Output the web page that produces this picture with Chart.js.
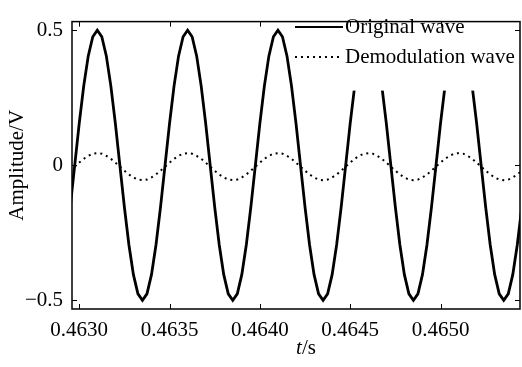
<!DOCTYPE html>
<html>
<head>
<meta charset="utf-8">
<script src="https://cdn.jsdelivr.net/npm/chart.js@4/dist/chart.umd.min.js"></script>
<style>
  body { margin: 0; background: #fff; }
  #grafica { display: block; }
</style>
</head>
<body>
<canvas id="grafica" width="522" height="367"></canvas>
<script>
// tiempos (s)
const tiempos = [
    0.462950,
    0.462975, 0.463000, 0.463025, 0.463050, 0.463075, 0.463100, 0.463125, 0.463150, 0.463175, 0.463200,
    0.463225, 0.463250, 0.463275, 0.463300, 0.463325, 0.463350, 0.463375, 0.463400, 0.463425, 0.463450,
    0.463475, 0.463500, 0.463525, 0.463550, 0.463575, 0.463600, 0.463625, 0.463650, 0.463675, 0.463700,
    0.463725, 0.463750, 0.463775, 0.463800, 0.463825, 0.463850, 0.463875, 0.463900, 0.463925, 0.463950,
    0.463975, 0.464000, 0.464025, 0.464050, 0.464075, 0.464100, 0.464125, 0.464150, 0.464175, 0.464200,
    0.464225, 0.464250, 0.464275, 0.464300, 0.464325, 0.464350, 0.464375, 0.464400, 0.464425, 0.464450,
    0.464475, 0.464500, 0.464525, 0.464550, 0.464575, 0.464600, 0.464625, 0.464650, 0.464675, 0.464700,
    0.464725, 0.464750, 0.464775, 0.464800, 0.464825, 0.464850, 0.464875, 0.464900, 0.464925, 0.464950,
    0.464975, 0.465000, 0.465025, 0.465050, 0.465075, 0.465100, 0.465125, 0.465150, 0.465175, 0.465200,
    0.465225, 0.465250, 0.465275, 0.465300, 0.465325, 0.465350, 0.465375, 0.465400, 0.465425, 0.465450
];

// onda original (V)
const ondaOriginal = [
    -0.155,
    0, 0.155, 0.294, 0.405, 0.476, 0.5, 0.476, 0.405, 0.294, 0.155,
    0, -0.155, -0.294, -0.405, -0.476, -0.5, -0.476, -0.405, -0.294, -0.155,
    0, 0.155, 0.294, 0.405, 0.476, 0.5, 0.476, 0.405, 0.294, 0.155,
    0, -0.155, -0.294, -0.405, -0.476, -0.5, -0.476, -0.405, -0.294, -0.155,
    0, 0.155, 0.294, 0.405, 0.476, 0.5, 0.476, 0.405, 0.294, 0.155,
    0, -0.155, -0.294, -0.405, -0.476, -0.5, -0.476, -0.405, -0.294, -0.155,
    0, 0.155, 0.294, 0.405, 0.476, 0.5, 0.476, 0.405, 0.294, 0.155,
    0, -0.155, -0.294, -0.405, -0.476, -0.5, -0.476, -0.405, -0.294, -0.155,
    0, 0.155, 0.294, 0.405, 0.476, 0.5, 0.476, 0.405, 0.294, 0.155,
    0, -0.155, -0.294, -0.405, -0.476, -0.5, -0.476, -0.405, -0.294, -0.155
];

// onda demodulada (V)
const ondaDemodulada = [
    -0.020,
    -0.005, 0.010, 0.024, 0.035, 0.043, 0.045, 0.043, 0.035, 0.024, 0.010,
    -0.005, -0.020, -0.034, -0.045, -0.053, -0.055, -0.053, -0.045, -0.034, -0.020,
    -0.005, 0.010, 0.024, 0.035, 0.043, 0.045, 0.043, 0.035, 0.024, 0.010,
    -0.005, -0.020, -0.034, -0.045, -0.053, -0.055, -0.053, -0.045, -0.034, -0.020,
    -0.005, 0.010, 0.024, 0.035, 0.043, 0.045, 0.043, 0.035, 0.024, 0.010,
    -0.005, -0.020, -0.034, -0.045, -0.053, -0.055, -0.053, -0.045, -0.034, -0.020,
    -0.005, 0.010, 0.024, 0.035, 0.043, 0.045, 0.043, 0.035, 0.024, 0.010,
    -0.005, -0.020, -0.034, -0.045, -0.053, -0.055, -0.053, -0.045, -0.034, -0.020,
    -0.005, 0.010, 0.024, 0.035, 0.043, 0.045, 0.043, 0.035, 0.024, 0.010,
    -0.005, -0.020, -0.034, -0.045, -0.053, -0.055, -0.053, -0.045, -0.034, -0.020
];

const ticksX = [0.4630, 0.4635, 0.4640, 0.4645, 0.4650];
const ticksY = [-0.5, 0, 0.5];
const nombresSeries = ['Original wave', 'Demodulation wave'];

const FUENTE = "'Liberation Serif', 'Times New Roman', serif";

function puntos(valores) {
    return tiempos.map((t, i) => ({ x: t, y: valores[i] }));
}

// marco con marcas hacia dentro, estilo MATLAB
const marcoPlugin = {
    id: 'marco',
    afterDraw(chart) {
        const { ctx, chartArea: a, scales } = chart;
        const largo = 5;
        ctx.save();
        ctx.strokeStyle = '#000';
        ctx.lineWidth = 1.5;
        ctx.strokeRect(a.left, a.top, a.right - a.left, a.bottom - a.top);
        ctx.lineWidth = 1;
        ctx.beginPath();
        ticksX.forEach(v => {
            const px = Math.round(scales.x.getPixelForValue(v)) + 0.5;
            ctx.moveTo(px, a.bottom); ctx.lineTo(px, a.bottom - largo);
            ctx.moveTo(px, a.top); ctx.lineTo(px, a.top + largo);
        });
        ticksY.forEach(v => {
            const py = Math.round(scales.y.getPixelForValue(v)) + 0.5;
            ctx.moveTo(a.left, py); ctx.lineTo(a.left + largo, py);
            ctx.moveTo(a.right, py); ctx.lineTo(a.right - largo, py);
        });
        ctx.stroke();

        // titulo del eje x: t en cursiva, /s normal
        const cx = 306, cy = 348;
        ctx.fillStyle = '#000';
        ctx.textBaseline = 'middle';
        ctx.font = 'italic 21px ' + FUENTE;
        const wt = ctx.measureText('t').width;
        ctx.font = '21px ' + FUENTE;
        const ws = ctx.measureText('/s').width;
        const x0 = cx - (wt + ws) / 2;
        ctx.font = 'italic 21px ' + FUENTE;
        ctx.fillText('t', x0, cy);
        ctx.font = '21px ' + FUENTE;
        ctx.fillText('/s', x0 + wt, cy);
        ctx.restore();
    }
};

// leyenda dentro del area, con fondo blanco
const leyendaPlugin = {
    id: 'leyenda',
    afterDatasetsDraw(chart) {
        const { ctx, chartArea: a } = chart;
        ctx.save();
        ctx.fillStyle = '#fff';
        ctx.fillRect(294, a.top + 1, a.right - 295, 68);
        ctx.strokeStyle = '#000';
        ctx.lineWidth = 2;
        ctx.beginPath();
        ctx.moveTo(295, 27); ctx.lineTo(343, 27);
        ctx.stroke();
        ctx.setLineDash([2, 4]);
        ctx.beginPath();
        ctx.moveTo(295, 57); ctx.lineTo(343, 57);
        ctx.stroke();
        ctx.setLineDash([]);
        ctx.fillStyle = '#000';
        ctx.font = '21px ' + FUENTE;
        ctx.textBaseline = 'middle';
        ctx.fillText(nombresSeries[0], 345, 27);
        ctx.fillText(nombresSeries[1], 345, 57);
        ctx.restore();
    }
};

new Chart(document.getElementById('grafica').getContext('2d'), {
    type: 'line',
    data: {
        datasets: [
            {
                label: nombresSeries[0],
                data: puntos(ondaOriginal),
                borderColor: '#000',
                borderWidth: 2.8,
                pointRadius: 0,
                tension: 0,
                fill: false
            },
            {
                label: nombresSeries[1],
                data: puntos(ondaDemodulada),
                borderColor: '#000',
                borderWidth: 2,
                borderDash: [2, 4],
                pointRadius: 0,
                tension: 0,
                fill: false
            }
        ]
    },
    options: {
        responsive: false,
        animation: false,
        devicePixelRatio: 1,
        layout: { padding: { top: 8, right: 2, left: 0, bottom: 0 } },
        plugins: {
            legend: { display: false },
            tooltip: { enabled: false }
        },
        scales: {
            x: {
                type: 'linear',
                min: 0.46296,
                max: 0.46544,
                grid: { display: false, drawTicks: false },
                border: { display: false },
                afterBuildTicks: scale => { scale.ticks = ticksX.map(v => ({ value: v })); },
                afterFit: scale => { scale.height = 58; },
                ticks: {
                    padding: 9,
                    maxRotation: 0,
                    color: '#000',
                    font: { family: FUENTE, size: 21 },
                    callback: v => v.toFixed(4)
                }
            },
            y: {
                min: -0.532,
                max: 0.532,
                grid: { display: false, drawTicks: false },
                border: { display: false },
                afterBuildTicks: scale => { scale.ticks = ticksY.map(v => ({ value: v })); },
                afterFit: scale => { scale.width = 72; },
                ticks: {
                    padding: 9,
                    color: '#000',
                    font: { family: FUENTE, size: 21 },
                    callback: v => v < 0 ? '\u2212' + Math.abs(v) : String(v)
                },
                title: {
                    display: true,
                    text: 'Amplitude/V',
                    color: '#000',
                    font: { family: FUENTE, size: 21 },
                    padding: { top: 5, bottom: 0 }
                }
            }
        }
    },
    plugins: [leyendaPlugin, marcoPlugin]
});
</script>
</body>
</html>
